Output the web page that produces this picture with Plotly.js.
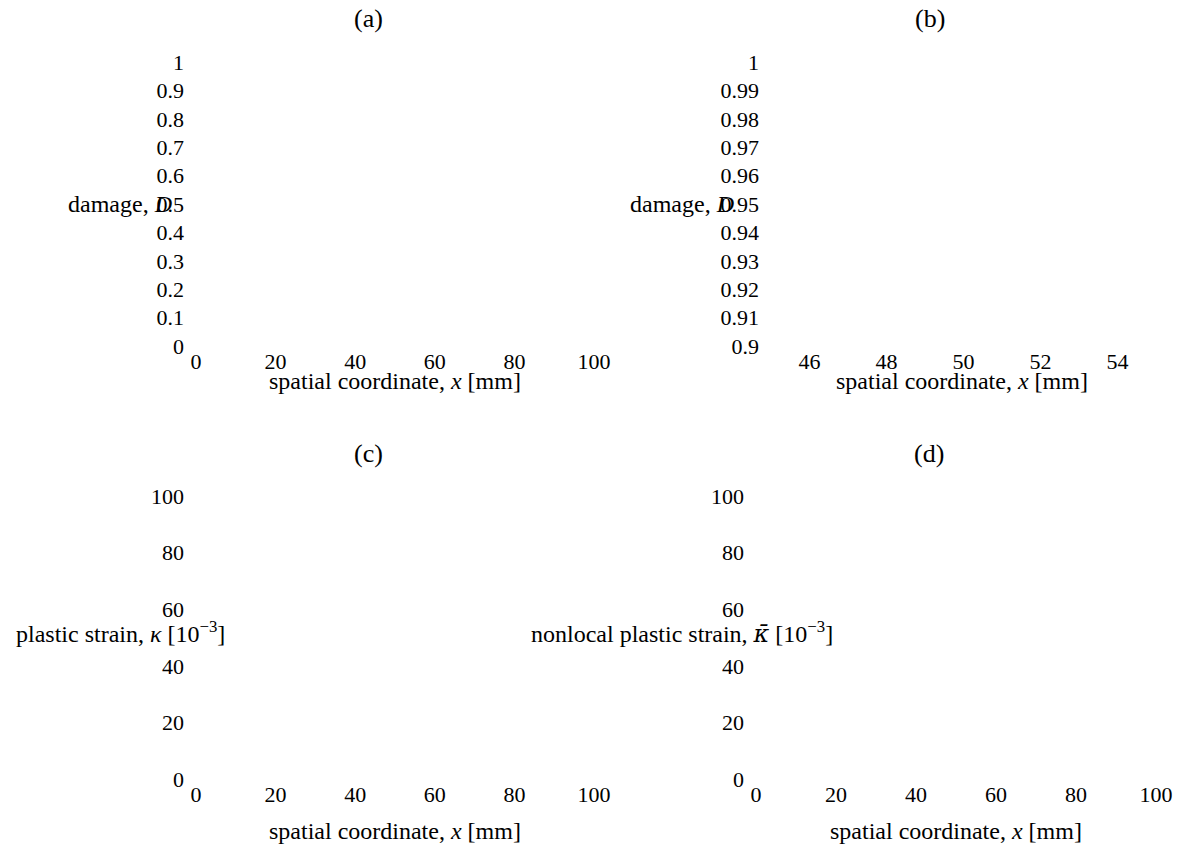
<!DOCTYPE html>
<html>
<head>
<meta charset="utf-8">
<script src="https://cdn.plot.ly/plotly-3.0.1.min.js"></script>
<style>html,body{margin:0;padding:0;background:#fff;}#chart{width:1188px;height:848px;}</style>
</head>
<body>
<div id="chart"></div>
<script>
// ---- data (the reference panels contain no plotted marks, only axes) ----
const panelLabels = ["(a)", "(b)", "(c)", "(d)"];
const xRangeFull = [0, 100];
const xRangeZoom = [45, 55];
const yRangeDamage = [0, 1];
const yRangeDamageZoom = [0.9, 1];
const yRangeStrain = [0, 100];

const xTicksFull = [0, 20, 40, 60, 80, 100];
const xTicksZoom = [46, 48, 50, 52, 54];
const yTicksDamage = [0, 0.1, 0.2, 0.3, 0.4, 0.5, 0.6, 0.7, 0.8, 0.9, 1];
const yTickTextDamage = ["0", "0.1", "0.2", "0.3", "0.4", "0.5", "0.6", "0.7", "0.8", "0.9", "1"];
const yTicksDamageZoom = [0.9, 0.91, 0.92, 0.93, 0.94, 0.95, 0.96, 0.97, 0.98, 0.99, 1];
const yTickTextDamageZoom = ["0.9", "0.91", "0.92", "0.93", "0.94", "0.95", "0.96", "0.97", "0.98", "0.99", "1"];
const yTicksStrain = [0, 20, 40, 60, 80, 100];

const xTitle = "spatial coordinate, <i>x</i> [mm]";
const yTitles = ["damage, <i>D</i>", "damage, <i>D</i>",
                 "plastic strain, <i>κ</i> [10<sup>−3</sup>]",
                 "nonlocal plastic strain, <span style=\"font-family:'DejaVu Serif'\"><i>κ̄</i></span> [10<sup>−3</sup>]"];

// empty series (nothing is drawn in the reference)
const seriesX = [];
const seriesY = [];

// ---- layout helpers ----
const W = 1188, H = 848;
const px = v => v / W;
const py = v => 1 - v / H;
const FONT = "Liberation Serif, Times New Roman, serif";
const tickFont = {family: FONT, size: 22, color: "#000"};
const labelFont = {family: FONT, size: 24, color: "#000"};
const titleFont = {family: FONT, size: 26, color: "#000"};

function xAxis(domain, range, ticks, anchor) {
  return {
    domain: domain, range: range, anchor: anchor,
    tickmode: "array", tickvals: ticks, ticktext: ticks.map(String),
    showgrid: false, zeroline: false, showline: false, ticks: "",
    tickfont: tickFont, ticklabelstandoff: 0,
    title: {text: ""},
    fixedrange: true
  };
}
function yAxis(domain, range, ticks, text, anchor) {
  return {
    domain: domain, range: range, anchor: anchor,
    tickmode: "array", tickvals: ticks, ticktext: text,
    showgrid: false, zeroline: false, showline: false, ticks: "",
    tickfont: tickFont, ticklabelstandoff: 11,
    title: {text: ""},
    fixedrange: true
  };
}

const topY = [py(346), py(62)];
const botY = [py(779), py(496)];
const leftX = [px(196), px(594)];
const rightXb = [px(771), px(1156)];
const rightXd = [px(756), px(1156)];

const traces = [
  {x: seriesX, y: seriesY, xaxis: "x", yaxis: "y", type: "scatter", mode: "lines", showlegend: false},
  {x: seriesX, y: seriesY, xaxis: "x2", yaxis: "y2", type: "scatter", mode: "lines", showlegend: false},
  {x: seriesX, y: seriesY, xaxis: "x3", yaxis: "y3", type: "scatter", mode: "lines", showlegend: false},
  {x: seriesX, y: seriesY, xaxis: "x4", yaxis: "y4", type: "scatter", mode: "lines", showlegend: false}
];

const annotations = [
  {text: panelLabels[0], x: px(368), y: py(19), font: titleFont},
  {text: panelLabels[1], x: px(930), y: py(19), font: titleFont},
  {text: panelLabels[2], x: px(368), y: py(453), font: titleFont},
  {text: panelLabels[3], x: px(929), y: py(453), font: titleFont},
  {text: yTitles[0], x: px(120), y: py(204), font: labelFont},
  {text: yTitles[1], x: px(682), y: py(204), font: labelFont},
  {text: yTitles[2], x: px(120), y: py(632), font: labelFont},
  {text: yTitles[3], x: px(682), y: py(632), font: labelFont},
  {text: xTitle, x: px(395), y: py(381), font: labelFont},
  {text: xTitle, x: px(962), y: py(381), font: labelFont},
  {text: xTitle, x: px(395), y: py(831), font: labelFont},
  {text: xTitle, x: px(956), y: py(831), font: labelFont}
].map(a => Object.assign({xref: "paper", yref: "paper", xanchor: "center", yanchor: "middle", showarrow: false}, a));

const layout = {
  width: W, height: H,
  margin: {l: 0, r: 0, t: 0, b: 0},
  paper_bgcolor: "#fff", plot_bgcolor: "#fff",
  title: {text: ""},
  showlegend: false,
  font: {family: FONT, color: "#000"},
  xaxis: xAxis(leftX, xRangeFull, xTicksFull, "y"),
  yaxis: yAxis(topY, yRangeDamage, yTicksDamage, yTickTextDamage, "x"),
  xaxis2: xAxis(rightXb, xRangeZoom, xTicksZoom, "y2"),
  yaxis2: yAxis(topY, yRangeDamageZoom, yTicksDamageZoom, yTickTextDamageZoom, "x2"),
  xaxis3: xAxis(leftX, xRangeFull, xTicksFull, "y3"),
  yaxis3: yAxis(botY, yRangeStrain, yTicksStrain, yTicksStrain.map(String), "x3"),
  xaxis4: xAxis(rightXd, xRangeFull, xTicksFull, "y4"),
  yaxis4: yAxis(botY, yRangeStrain, yTicksStrain, yTicksStrain.map(String), "x4"),
  annotations: annotations
};

Plotly.newPlot("chart", traces, layout, {displayModeBar: false, staticPlot: true});
</script>
</body>
</html>
